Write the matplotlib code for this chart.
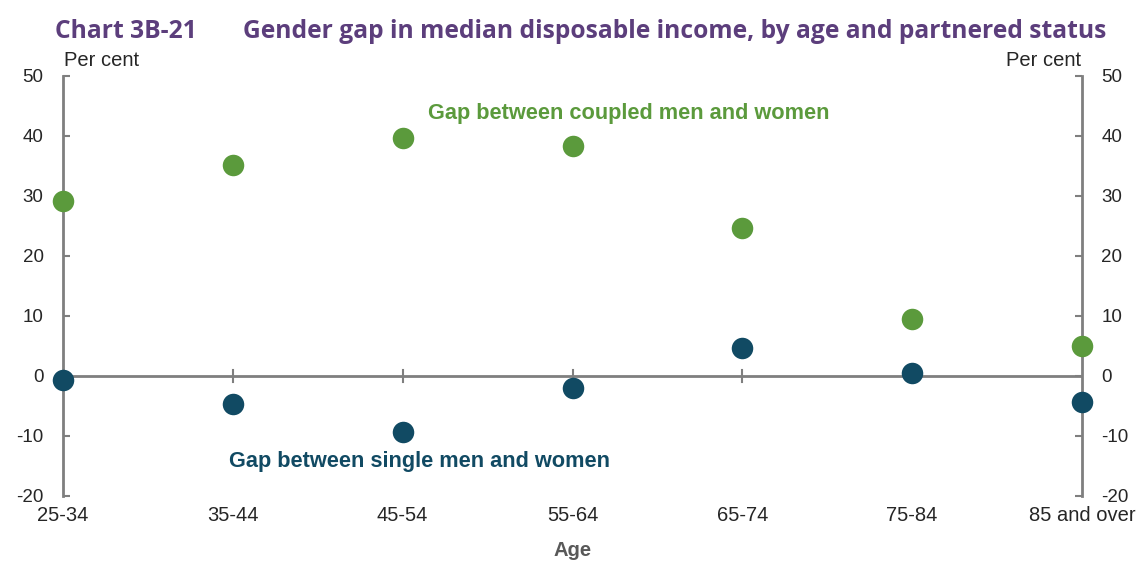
import matplotlib
matplotlib.use("Agg")
import matplotlib.pyplot as plt

categories = ["25-34", "35-44", "45-54", "55-64", "65-74", "75-84", "85 and over"]
coupled_gap = [29.2, 35.2, 39.7, 38.3, 24.7, 9.5, 5.0]
single_gap = [-0.7, -4.7, -9.3, -2.0, 4.7, 0.5, -4.3]
y_ticks = [-20, -10, 0, 10, 20, 30, 40, 50]

GREEN = "#5b9a3c"
TEAL = "#114a63"
AXIS = "#7f7f7f"
PURPLE = "#5c3e7c"
TXT = "#262626"

plt.rcParams['font.family'] = ['Liberation Sans', 'DejaVu Sans']

fig = plt.figure(figsize=(11.42, 5.65), dpi=100)
ax = fig.add_axes([63/1142, 1-496/565, (1082-63)/1142, (496-76)/565])

x = list(range(len(categories)))
ax.scatter(x, coupled_gap, s=240, color=GREEN, zorder=5, clip_on=False, linewidths=0)
ax.scatter(x, single_gap, s=240, color=TEAL, zorder=5, clip_on=False, linewidths=0)

ax.set_xlim(0, len(categories) - 1)
ax.set_ylim(-20, 50)
ax.set_yticks(y_ticks)
ax.set_yticklabels([str(v) for v in y_ticks])

for s in ["top", "bottom"]:
    ax.spines[s].set_visible(False)
for s in ["left", "right"]:
    ax.spines[s].set_color(AXIS)
    ax.spines[s].set_linewidth(2)
ax.axhline(0, color=AXIS, lw=2, zorder=2)
# x ticks on zero line
for xi in x[1:-1]:
    ax.plot([xi, xi], [-1, 1], color=AXIS, lw=1.5, zorder=2)

ax.tick_params(axis='y', which='both', direction='in', length=5, width=1.5, color=AXIS,
               labelsize=13.5, labelcolor=TXT, pad=14, left=True, right=True,
               labelleft=True, labelright=True)
ax.set_xticks(x)
ax.set_xticklabels(categories)
ax.tick_params(axis='x', length=0, labelsize=14.5, labelcolor=TXT, pad=7)

ax.set_xlabel("Age", fontsize=14.5, color="#595959", fontweight="bold", labelpad=12)

fig.text(64/1142, 1-61/565, "Per cent", fontsize=14.5, color=TXT, ha="left", va="center")
fig.text(1081/1142, 1-61/565, "Per cent", fontsize=14.5, color=TXT, ha="right", va="center")

ax.text(3.33, 43.8, "Gap between coupled men and women", color=GREEN, fontsize=15.7,
        fontweight="bold", ha="center", va="center")
ax.text(2.10, -14.2, "Gap between single men and women", color=TEAL, fontsize=15.7,
        fontweight="bold", ha="center", va="center")

fig.text(55/1142, 1-31/565, "Chart 3B-21", fontsize=17.7, fontweight="bold",
         color=PURPLE, family=["Open Sans", "DejaVu Sans"], ha="left", va="center")
fig.text(243/1142, 1-31/565, "Gender gap in median disposable income, by age and partnered status",
         fontsize=17.7, fontweight="bold", color=PURPLE, family=["Open Sans", "DejaVu Sans"],
         ha="left", va="center")

fig.savefig("out.png", dpi=100)
